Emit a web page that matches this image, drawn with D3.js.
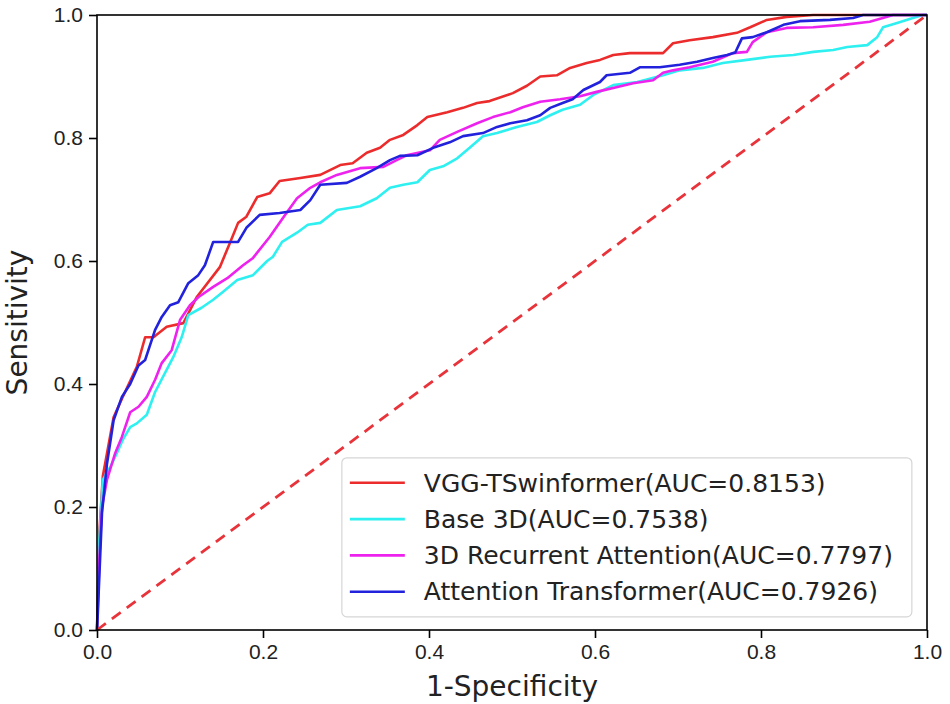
<!DOCTYPE html>
<html>
<head>
<meta charset="utf-8">
<script src="https://cdn.jsdelivr.net/npm/d3@7"></script>
<style>
  body { margin: 0; background: #fff; }
  svg { font-family: "DejaVu Sans", sans-serif; }
  .axis path, .axis line { stroke: #000; stroke-width: 1.6; }
  .axis text { font-size: 21px; fill: #222; }
</style>
</head>
<body>
<svg class="roc-chart" width="950" height="704"></svg>
<script>
// ROC curves: 1-Specificity (fpr) vs Sensitivity (tpr)
const vggFpr = [0, 0.003, 0.007, 0.02, 0.031, 0.048, 0.058, 0.068, 0.084, 0.104, 0.12, 0.148, 0.16, 0.17, 0.18, 0.193, 0.208, 0.22, 0.245, 0.269, 0.293, 0.308, 0.325, 0.341, 0.353, 0.369, 0.386, 0.398, 0.422, 0.441, 0.458, 0.473, 0.501, 0.518, 0.534, 0.554, 0.57, 0.59, 0.606, 0.622, 0.642, 0.682, 0.694, 0.714, 0.742, 0.771, 0.787, 0.807, 0.831, 0.863, 1.0];
const vggTpr = [0, 0.16, 0.25, 0.346, 0.379, 0.428, 0.476, 0.476, 0.493, 0.499, 0.541, 0.59, 0.629, 0.662, 0.672, 0.704, 0.71, 0.73, 0.735, 0.74, 0.756, 0.759, 0.776, 0.784, 0.797, 0.805, 0.821, 0.834, 0.842, 0.849, 0.857, 0.86, 0.873, 0.885, 0.9, 0.902, 0.914, 0.922, 0.927, 0.935, 0.938, 0.938, 0.954, 0.959, 0.964, 0.971, 0.98, 0.992, 0.997, 1.0, 1.0];

const baseFpr = [0, 0.003, 0.007, 0.016, 0.024, 0.031, 0.04, 0.048, 0.06, 0.07, 0.082, 0.092, 0.102, 0.11, 0.126, 0.14, 0.152, 0.169, 0.188, 0.205, 0.212, 0.223, 0.241, 0.254, 0.269, 0.289, 0.317, 0.337, 0.353, 0.369, 0.386, 0.401, 0.417, 0.434, 0.449, 0.465, 0.482, 0.506, 0.53, 0.546, 0.561, 0.582, 0.598, 0.622, 0.651, 0.682, 0.702, 0.73, 0.754, 0.783, 0.811, 0.839, 0.863, 0.887, 0.904, 0.928, 0.94, 0.947, 0.964, 0.983, 0.995, 1.0];
const baseTpr = [0, 0.15, 0.244, 0.265, 0.288, 0.309, 0.33, 0.336, 0.35, 0.387, 0.418, 0.444, 0.476, 0.512, 0.524, 0.537, 0.55, 0.569, 0.577, 0.6, 0.607, 0.631, 0.646, 0.659, 0.662, 0.683, 0.689, 0.702, 0.719, 0.724, 0.728, 0.748, 0.754, 0.767, 0.784, 0.803, 0.808, 0.818, 0.826, 0.837, 0.846, 0.854, 0.87, 0.886, 0.891, 0.902, 0.91, 0.914, 0.922, 0.927, 0.932, 0.935, 0.94, 0.943, 0.948, 0.951, 0.964, 0.98, 0.987, 0.995, 1.0, 1.0];

const recFpr = [0, 0.003, 0.006, 0.012, 0.022, 0.03, 0.04, 0.05, 0.06, 0.07, 0.078, 0.09, 0.1, 0.112, 0.122, 0.14, 0.157, 0.176, 0.188, 0.208, 0.224, 0.241, 0.257, 0.269, 0.289, 0.317, 0.345, 0.361, 0.373, 0.401, 0.413, 0.434, 0.458, 0.477, 0.498, 0.513, 0.534, 0.558, 0.582, 0.602, 0.627, 0.646, 0.67, 0.682, 0.694, 0.714, 0.742, 0.766, 0.783, 0.79, 0.807, 0.831, 0.863, 0.899, 0.931, 0.952, 0.959, 1.0];
const recTpr = [0, 0.12, 0.2, 0.244, 0.288, 0.314, 0.354, 0.363, 0.379, 0.407, 0.434, 0.455, 0.504, 0.528, 0.541, 0.558, 0.572, 0.593, 0.605, 0.639, 0.67, 0.702, 0.719, 0.728, 0.74, 0.751, 0.753, 0.764, 0.772, 0.78, 0.797, 0.81, 0.824, 0.834, 0.842, 0.85, 0.859, 0.863, 0.868, 0.875, 0.883, 0.889, 0.894, 0.906, 0.91, 0.915, 0.924, 0.938, 0.94, 0.956, 0.972, 0.979, 0.98, 0.984, 0.989, 0.997, 1.0, 1.0];

const attFpr = [0, 0.001, 0.006, 0.012, 0.02, 0.03, 0.04, 0.05, 0.058, 0.07, 0.078, 0.088, 0.098, 0.11, 0.122, 0.13, 0.14, 0.17, 0.18, 0.196, 0.22, 0.245, 0.257, 0.269, 0.301, 0.317, 0.337, 0.353, 0.365, 0.386, 0.405, 0.425, 0.441, 0.465, 0.482, 0.498, 0.518, 0.534, 0.546, 0.561, 0.573, 0.586, 0.606, 0.614, 0.642, 0.654, 0.678, 0.702, 0.723, 0.742, 0.759, 0.769, 0.777, 0.79, 0.807, 0.827, 0.847, 0.883, 0.911, 0.923, 1.0];
const attTpr = [0, 0.028, 0.19, 0.27, 0.341, 0.379, 0.4, 0.43, 0.439, 0.488, 0.509, 0.528, 0.533, 0.564, 0.577, 0.593, 0.631, 0.631, 0.654, 0.675, 0.678, 0.683, 0.699, 0.724, 0.727, 0.737, 0.751, 0.764, 0.771, 0.772, 0.784, 0.793, 0.803, 0.808, 0.818, 0.824, 0.829, 0.837, 0.849, 0.857, 0.863, 0.878, 0.891, 0.902, 0.906, 0.915, 0.915, 0.919, 0.924, 0.93, 0.935, 0.939, 0.962, 0.964, 0.972, 0.984, 0.99, 0.992, 0.995, 1.0, 1.0];

const modelNames = ["VGG-TSwinformer(AUC=0.8153)", "Base 3D(AUC=0.7538)", "3D Recurrent Attention(AUC=0.7797)", "Attention Transformer(AUC=0.7926)"];
const modelColors = ["#ec2c2c", "#2ef0f0", "#ee22ee", "#2222dd"];
const tickValues = [0, 0.2, 0.4, 0.6, 0.8, 1.0];

function drawRocChart() {
    const svg = d3.select("svg.roc-chart");
    const margin = {top: 15, right: 23, bottom: 74, left: 97};
    const width = +svg.attr("width") - margin.left - margin.right;
    const height = +svg.attr("height") - margin.top - margin.bottom;
    const g = svg.append("g").attr("transform", `translate(${margin.left}, ${margin.top})`);

    const x = d3.scaleLinear().domain([0, 1]).range([0, width]);
    const y = d3.scaleLinear().domain([0, 1]).range([height, 0]);

    const series = [
        {fpr: vggFpr, tpr: vggTpr},
        {fpr: baseFpr, tpr: baseTpr},
        {fpr: recFpr, tpr: recTpr},
        {fpr: attFpr, tpr: attTpr}
    ].map((s, i) => ({
        name: modelNames[i],
        color: modelColors[i],
        points: s.fpr.map((f, j) => [f, s.tpr[j]])
    }));

    const line = d3.line()
        .x(d => x(d[0]))
        .y(d => y(d[1]));

    g.selectAll("path.roc")
        .data(series)
        .join("path")
        .attr("class", "roc")
        .attr("fill", "none")
        .attr("stroke", d => d.color)
        .attr("stroke-width", 2.6)
        .attr("stroke-linejoin", "round")
        .attr("d", d => line(d.points));

    // chance line
    g.append("path")
        .datum([[0, 0], [1, 1]])
        .attr("fill", "none")
        .attr("stroke", "#e8333a")
        .attr("stroke-width", 2.8)
        .attr("stroke-dasharray", "11,7.5")
        .attr("d", line);

    // frame
    g.append("rect")
        .attr("width", width)
        .attr("height", height)
        .attr("fill", "none")
        .attr("stroke", "#000")
        .attr("stroke-width", 1.6);

    const fmt = d3.format(".1f");
    g.append("g")
        .attr("class", "axis axis--x")
        .attr("transform", `translate(0, ${height})`)
        .call(d3.axisBottom(x).tickValues(tickValues).tickFormat(fmt).tickSize(8).tickPadding(6))
        .call(a => a.select(".domain").remove());

    g.append("g")
        .attr("class", "axis axis--y")
        .call(d3.axisLeft(y).tickValues(tickValues).tickFormat(fmt).tickSize(8).tickPadding(6))
        .call(a => a.select(".domain").remove());

    svg.append("text")
        .attr("x", margin.left + width / 2)
        .attr("y", 696)
        .attr("text-anchor", "middle")
        .attr("font-size", 28)
        .attr("fill", "#222")
        .text("1-Specificity");

    svg.append("text")
        .attr("transform", `translate(27, ${margin.top + height / 2}) rotate(-90)`)
        .attr("text-anchor", "middle")
        .attr("font-size", 28)
        .attr("fill", "#222")
        .text("Sensitivity");

    // legend
    const legend = g.append("g").attr("transform", `translate(${x(0.295)}, ${y(0.28)})`);
    legend.append("rect")
        .attr("width", 570)
        .attr("height", 159)
        .attr("rx", 5)
        .attr("fill", "#fff")
        .attr("fill-opacity", 0.8)
        .attr("stroke", "#d6d6d6")
        .attr("stroke-width", 1.2);

    const item = legend.selectAll("g.item")
        .data(series)
        .join("g")
        .attr("class", "item")
        .attr("transform", (d, i) => `translate(0, ${25 + i * 36.3})`);
    item.append("line")
        .attr("x1", 8).attr("x2", 63)
        .attr("stroke", d => d.color)
        .attr("stroke-width", 2.6);
    item.append("text")
        .attr("x", 82)
        .attr("dy", "0.35em")
        .attr("font-size", 25)
        .attr("fill", "#222")
        .text(d => d.name);
}

drawRocChart();
</script>
</body>
</html>
